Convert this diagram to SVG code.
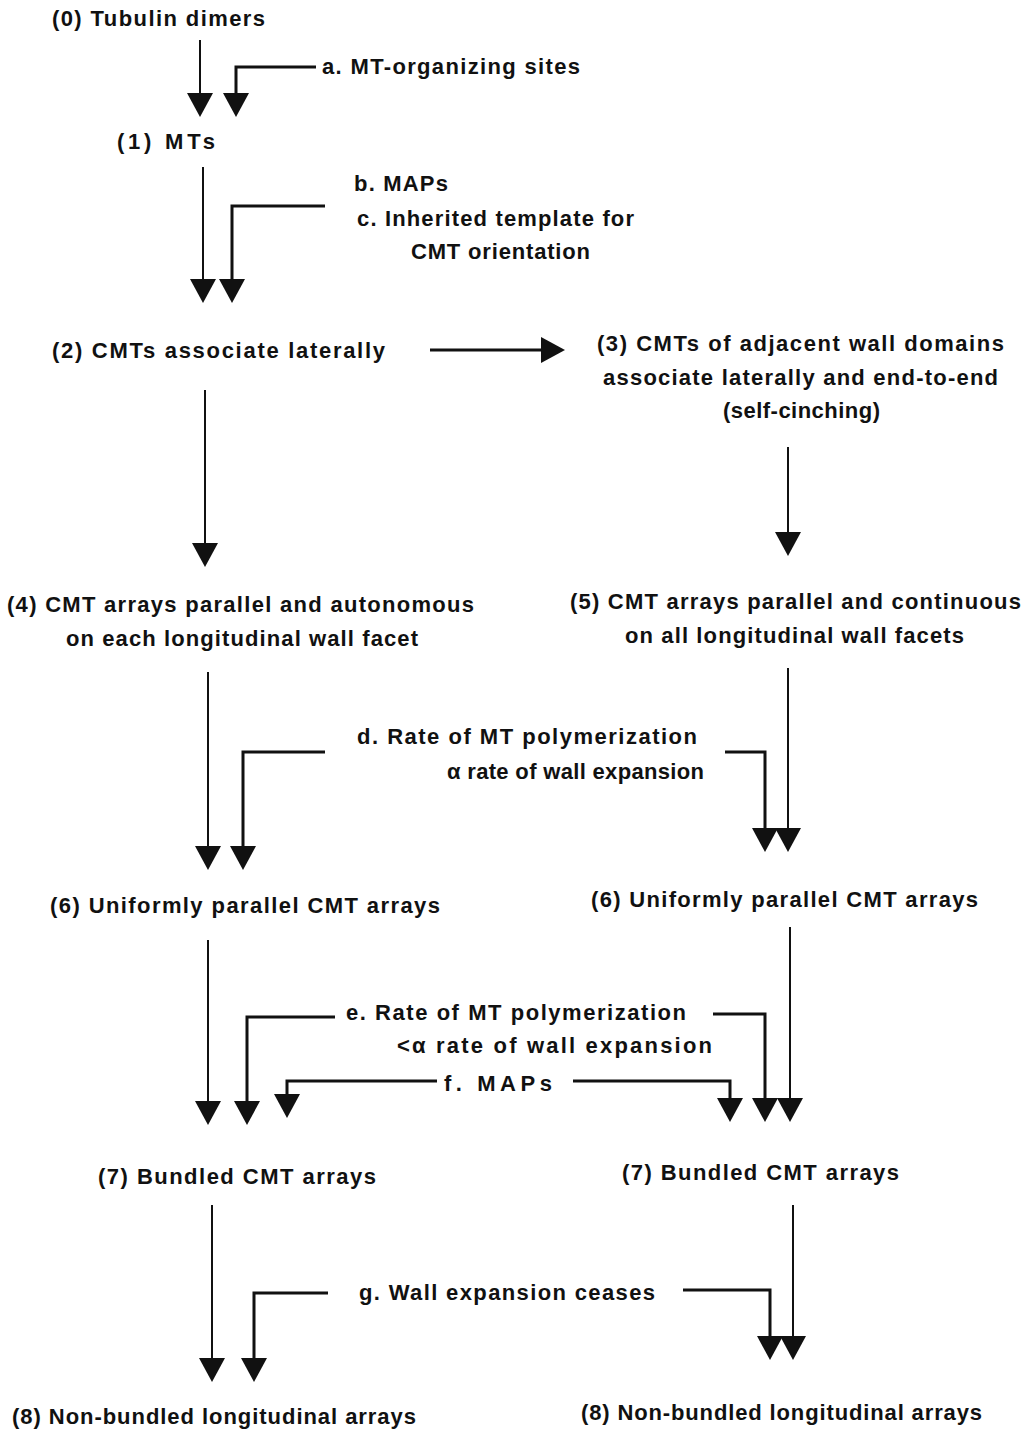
<svg xmlns="http://www.w3.org/2000/svg" width="1027" height="1433" viewBox="0 0 1027 1433">
<style>
text{font-family:"Liberation Sans",Arial,sans-serif;font-size:22px;font-weight:bold;fill:#111}
.m{fill:none;stroke:#111;stroke-width:2;marker-end:url(#ah)}
.b{fill:none;stroke:#111;stroke-width:3;marker-end:url(#ah)}
</style>
<defs>
<marker id="ah" markerUnits="userSpaceOnUse" markerWidth="24" markerHeight="26" viewBox="0 -13 24 26" refX="12" refY="0" orient="auto">
<path d="M0,-13 L24,0 L0,13 Z" fill="#111"/>
</marker>
</defs>
<rect width="1027" height="1433" fill="#fff"/>
<g id="connectors">
<path class="m" d="M200,40 V105"/>
<path class="b" d="M316,67 H236 V105"/>
<path class="m" d="M203,167 V291"/>
<path class="b" d="M325,206 H232 V291"/>
<path class="b" d="M430,350 H553"/>
<path class="m" d="M205,390 V555"/>
<path class="m" d="M788,447 V544"/>
<path class="m" d="M208,672 V858"/>
<path class="b" d="M325,752 H243 V858"/>
<path class="m" d="M788,668 V840"/>
<path class="b" d="M725,752 H765 V840"/>
<path class="m" d="M208,940 V1113"/>
<path class="b" d="M335,1017 H247 V1113"/>
<path class="b" d="M437,1081 H287 V1106"/>
<path class="m" d="M790,927 V1110"/>
<path class="b" d="M713,1014 H765 V1110"/>
<path class="b" d="M573,1081 H730 V1110"/>
<path class="m" d="M212,1205 V1370"/>
<path class="b" d="M328,1293 H254 V1370"/>
<path class="m" d="M793,1205 V1348"/>
<path class="b" d="M683,1290 H770 V1348"/>
</g>
<g id="n0"><text x="52" y="26" textLength="213" lengthAdjust="spacing">(0) Tubulin dimers</text></g>
<g id="fa"><text x="322" y="74" textLength="258" lengthAdjust="spacing">a. MT-organizing sites</text></g>
<g id="n1"><text x="117" y="149" textLength="98" lengthAdjust="spacing">(1) MTs</text></g>
<g id="fb"><text x="354" y="191" textLength="94" lengthAdjust="spacing">b. MAPs</text></g>
<g id="fc"><text x="357" y="226" textLength="277" lengthAdjust="spacing">c. Inherited template for</text>
<text x="411" y="259" textLength="179" lengthAdjust="spacing">CMT orientation</text></g>
<g id="n2"><text x="52" y="358" textLength="333" lengthAdjust="spacing">(2) CMTs associate laterally</text></g>
<g id="n3"><text x="597" y="351" textLength="407" lengthAdjust="spacing">(3) CMTs of adjacent wall domains</text>
<text x="603" y="385" textLength="395" lengthAdjust="spacing">associate laterally and end-to-end</text>
<text x="723" y="418" textLength="157" lengthAdjust="spacing">(self-cinching)</text></g>
<g id="n4"><text x="7" y="612" textLength="467" lengthAdjust="spacing">(4) CMT arrays parallel and autonomous</text>
<text x="66" y="646" textLength="352" lengthAdjust="spacing">on each longitudinal wall facet</text></g>
<g id="n5"><text x="570" y="609" textLength="451" lengthAdjust="spacing">(5) CMT arrays parallel and continuous</text>
<text x="625" y="643" textLength="339" lengthAdjust="spacing">on all longitudinal wall facets</text></g>
<g id="fd"><text x="357" y="744" textLength="340" lengthAdjust="spacing">d. Rate of MT polymerization</text>
<text x="447" y="779" textLength="257" lengthAdjust="spacing">α rate of wall expansion</text></g>
<g id="n6l"><text x="50" y="913" textLength="390" lengthAdjust="spacing">(6) Uniformly parallel CMT arrays</text></g>
<g id="n6r"><text x="591" y="907" textLength="387" lengthAdjust="spacing">(6) Uniformly parallel CMT arrays</text></g>
<g id="fe"><text x="346" y="1020" textLength="340" lengthAdjust="spacing">e. Rate of MT polymerization</text>
<text x="397" y="1053" textLength="315" lengthAdjust="spacing">&lt;α rate of wall expansion</text></g>
<g id="ff"><text x="444" y="1091" textLength="108" lengthAdjust="spacing">f. MAPs</text></g>
<g id="n7l"><text x="98" y="1184" textLength="278" lengthAdjust="spacing">(7) Bundled CMT arrays</text></g>
<g id="n7r"><text x="622" y="1180" textLength="277" lengthAdjust="spacing">(7) Bundled CMT arrays</text></g>
<g id="fg"><text x="359" y="1300" textLength="296" lengthAdjust="spacing">g. Wall expansion ceases</text></g>
<g id="n8l"><text x="12" y="1424" textLength="404" lengthAdjust="spacing">(8) Non-bundled longitudinal arrays</text></g>
<g id="n8r"><text x="581" y="1420" textLength="401" lengthAdjust="spacing">(8) Non-bundled longitudinal arrays</text></g>
</svg>
